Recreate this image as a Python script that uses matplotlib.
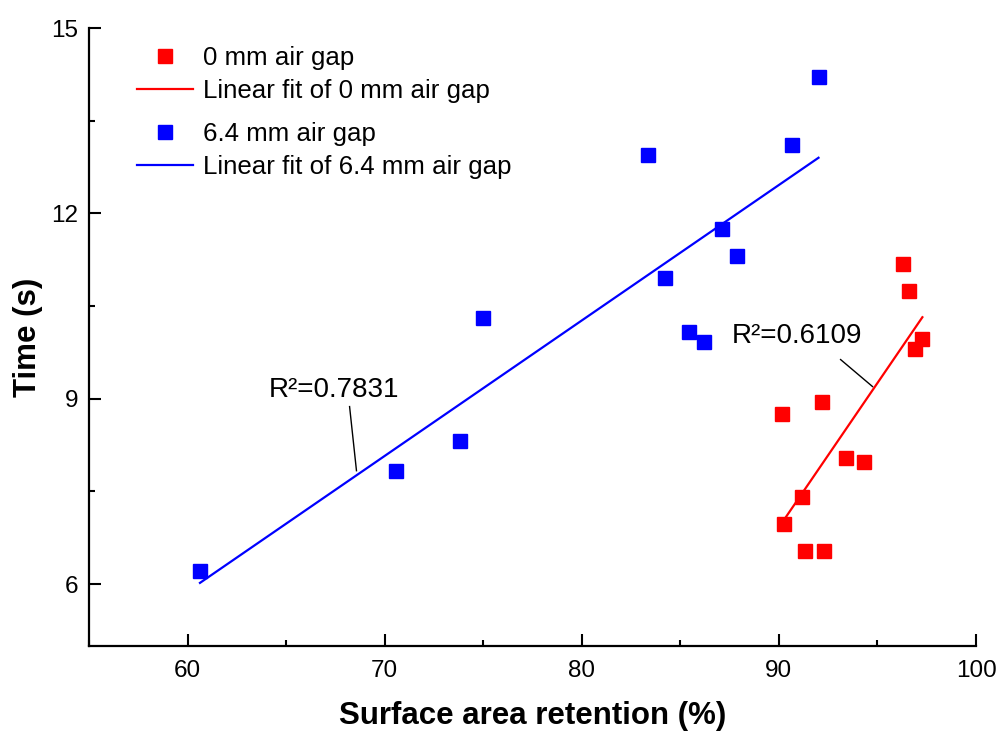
import numpy as np
import matplotlib
matplotlib.use("Agg")
import matplotlib.pyplot as plt
from matplotlib.lines import Line2D
from matplotlib.ticker import MultipleLocator

plt.rcParams['font.family'] = ['Liberation Sans', 'DejaVu Sans']

# surface area retention (%) vs time (s)
x_0mm = [90.18, 92.21, 93.43, 94.34, 91.19, 90.28, 91.35, 92.31, 96.88, 97.28, 96.32, 96.62]
t_0mm = [8.75, 8.95, 8.04, 7.97, 7.41, 6.97, 6.53, 6.53, 9.80, 9.97, 11.18, 10.74]

x_64mm = [60.63, 70.58, 73.83, 75.00, 83.38, 84.24, 85.46, 86.22, 87.13, 87.89, 90.69, 92.01]
t_64mm = [6.22, 7.83, 8.31, 10.31, 12.95, 10.96, 10.08, 9.92, 11.75, 11.31, 13.11, 14.20]

r2_labels = ["R\u00b2=0.6109", "R\u00b2=0.7831"]

fig = plt.figure(figsize=(10, 7.33), dpi=100)
ax = fig.add_axes([0.089, 0.1187, 0.887, 0.8431])


def fit_line(x, y):
    k, b = np.polyfit(x, y, 1)
    xs = np.array([min(x), max(x)])
    return xs, k * xs + b


# scatter + linear fits
ax.plot(x_0mm, t_0mm, 's', color='red', ms=9.5, mec='red', zorder=3)
xs, ys = fit_line(x_0mm, t_0mm)
ax.plot(xs, ys, '-', color='red', lw=1.6, zorder=2)

ax.plot(x_64mm, t_64mm, 's', color='blue', ms=9.5, mec='blue', zorder=3)
xs, ys = fit_line(x_64mm, t_64mm)
ax.plot(xs, ys, '-', color='blue', lw=1.6, zorder=2)

# R^2 labels with leader lines
ax.text(64.11, 9.036, r2_labels[1], fontsize=20, ha='left', va='baseline')
ax.plot([68.22, 68.57], [8.874, 7.836], color='black', lw=1)
ax.text(87.61, 9.895, r2_labels[0], fontsize=20, ha='left', va='baseline')
ax.plot([93.13, 94.75], [9.635, 9.198], color='black', lw=1)

ax.set_xlim(55, 100)
ax.set_ylim(5, 15)
ax.xaxis.set_major_locator(MultipleLocator(10))
ax.xaxis.set_minor_locator(MultipleLocator(5))
ax.yaxis.set_major_locator(MultipleLocator(3))
ax.yaxis.set_minor_locator(MultipleLocator(1.5))
ax.set_xticks([60, 70, 80, 90, 100])

for s in ['top', 'right']:
    ax.spines[s].set_visible(False)
for s in ['left', 'bottom']:
    ax.spines[s].set_linewidth(1.6)

ax.tick_params(which='major', direction='in', length=8.5, width=1.5, labelsize=17.5)
ax.tick_params(which='minor', direction='in', length=4.3, width=1.5)
ax.tick_params(axis='x', which='major', pad=10)
ax.tick_params(axis='y', which='major', pad=8)

ax.set_xlabel('Surface area retention (%)', fontsize=22.5, fontweight='bold', labelpad=14)
ax.set_ylabel('Time (s)', fontsize=22.5, fontweight='bold', labelpad=6)

# legend (two groups, like the original)
h_red = [Line2D([], [], ls='', marker='s', color='red', ms=9.5),
         Line2D([], [], ls='-', color='red', lw=1.6)]
h_blue = [Line2D([], [], ls='', marker='s', color='blue', ms=9.5),
          Line2D([], [], ls='-', color='blue', lw=1.6)]
kw = dict(loc='upper left', frameon=False, fontsize=18.6, handlelength=2.15,
          handletextpad=0.42, labelspacing=0.36, borderpad=0, borderaxespad=0,
          bbox_transform=fig.transFigure)
leg1 = ax.legend(h_red, ['0 mm air gap', 'Linear fit of 0 mm air gap'],
                 bbox_to_anchor=(0.137, 0.937), **kw)
ax.add_artist(leg1)
ax.legend(h_blue, ['6.4 mm air gap', 'Linear fit of 6.4 mm air gap'],
          bbox_to_anchor=(0.137, 0.834), **kw)

fig.savefig('out.png', dpi=100)
